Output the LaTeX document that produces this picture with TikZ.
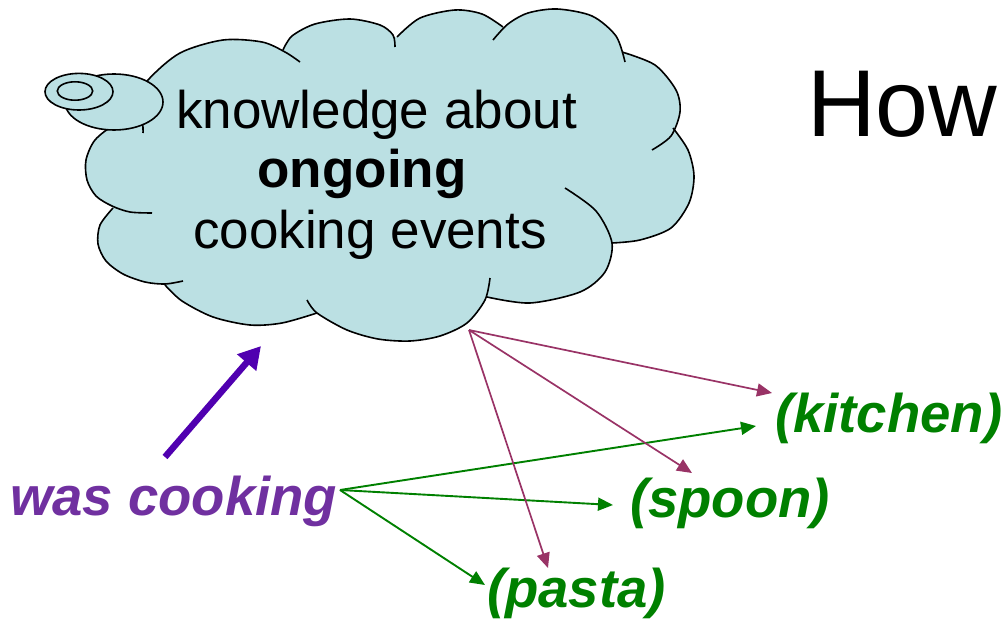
\documentclass[tikz,border=0pt]{standalone}
\usepackage{fontspec}
\setmainfont{Liberation Sans}
\usetikzlibrary{arrows.meta}

\definecolor{cloudfill}{RGB}{187,224,227}
\definecolor{linkred}{RGB}{153,51,102}
\definecolor{linkgreen}{RGB}{0,128,0}
\definecolor{verbpurple}{RGB}{112,48,160}
\definecolor{arrowviolet}{RGB}{80,0,176}

% The thought cloud is built from bumps; each list runs clockwise round the cloud.
\newcommand\cloudbumps[1]{%
  #1{(130,108) (148,80) (180,53) (223,40) (262,42) (285,52) (300,62)}%
  #1{(283,50) (292,36) (315,24) (350,19) (380,25) (393,35) (395,47)}%
  #1{(397,37) (420,18) (455,10) (482,14) (503,27)}%
  #1{(493,40) (508,24) (528,13) (557,9) (592,16) (616,36) (625,62)}%
  #1{(622,52) (655,65) (676,90) (680,112) (671,136) (652,150)}%
  #1{(673,128) (688,150) (694,176) (689,203) (671,228) (640,240) (612,243)}%
  #1{(565,188) (596,211) (612,243) (605,272) (580,292) (530,303) (487,297)}%
  #1{(490,278) (485,300) (467,323) (440,336) (410,341) (378,339) (347,330) (317,313) (307,300)}%
  #1{(317,313) (282,323) (250,325) (213,317) (182,301) (165,285)}%
  #1{(183,281) (165,284) (145,282) (123,274) (106,261) (98,244) (100,225) (113,208)}%
  #1{(152,213) (130,212) (112,206) (96,196) (87,180) (86,160) (95,140) (115,125) (140,120) (143,133)}%
}
\newcommand\cloudbumpfill[1]{plot[smooth] coordinates {#1} -- cycle }
\newcommand\cloudbumpline[1]{\draw[cloudline] plot[smooth] coordinates {#1};}

\tikzset{
  cloudline/.style={line width=1.6pt, draw=black, line join=round},
  bubble/.style={fill=cloudfill, draw=black, line width=1.6pt},
  redlink/.style={draw=linkred, line width=1.7pt, -{Triangle[length=15pt,width=13pt]}},
  greenlink/.style={draw=linkgreen, line width=1.9pt, -{Triangle[length=15pt,width=13pt]}},
  bigarrow/.style={draw=arrowviolet, line width=6.5pt, -{Triangle[length=22pt,width=24pt]}},
  talk/.style={font=\fontsize{53}{60}\selectfont, inner sep=0pt, anchor=base},
  keyword/.style={font=\fontsize{54.5}{60}\selectfont\bfseries\itshape, inner sep=0pt, anchor=base west, text=linkgreen},
}

\begin{document}
\begin{tikzpicture}[x=1pt, y=-1pt]
  \useasboundingbox (0,0) rectangle (1004,623);

  % cloud body: union of the bumps and a central polygon
  \fill[cloudfill] \cloudbumps\cloudbumpfill
    (130,108) -- (148,80) -- (283,50) -- (397,37) -- (503,27) -- (623,52)
    -- (673,128) -- (612,243) -- (487,297) -- (317,313) -- (165,285)
    -- (113,208) -- (95,150) -- (120,125) -- cycle;
  % cloud outline
  \cloudbumps\cloudbumpline

  % small thought bubbles
  \draw[bubble] (114,102) ellipse [x radius=49pt, y radius=28pt];
  \draw[bubble] (79,91.7) ellipse [x radius=34pt, y radius=18.3pt];
  \draw[bubble] (75,91) ellipse [x radius=17.7pt, y radius=9.2pt];

  % cloud text
  \node[talk] (line1) at (376.5,129) {knowledge about};
  \node[talk, font=\fontsize{53}{60}\selectfont\bfseries] (line2) at (362,187) {ongoing};
  \node[talk] (line3) at (370,248) {cooking events};

  % heading
  \node[font=\fontsize{95}{110}\selectfont, inner sep=0pt, anchor=base west] (how) at (807,137) {How};

  % words
  \node[keyword, text=verbpurple] (verb) at (10,515) {was cooking};
  \node[keyword] (kitchen) at (775,432) {(kitchen)};
  \node[keyword] (spoon) at (630,517) {(spoon)};
  \node[keyword] (pasta) at (487,607) {(pasta)};

  % connector end points
  \coordinate (cloudout) at (469,330);
  \coordinate (kitchenA) at (772,393);
  \coordinate (spoonA) at (692,473);
  \coordinate (pastaA) at (548,568);
  \coordinate (verbout) at (340,490);
  \coordinate (kitchenB) at (756,426);
  \coordinate (spoonB) at (613,505);
  \coordinate (pastaB) at (485,585);
  \coordinate (tail) at (165,457);
  \coordinate (head) at (261,346);

  % links from the verb
  \draw[greenlink] (verbout) -- (kitchenB);
  \draw[greenlink] (verbout) -- (spoonB);
  \draw[greenlink] (verbout) -- (pastaB);

  % links from the cloud
  \draw[redlink] (cloudout) -- (kitchenA);
  \draw[redlink] (cloudout) -- (spoonA);
  \draw[redlink] (cloudout) -- (pastaA);

  % the verb feeds the cloud
  \draw[bigarrow] (tail) -- (head);
\end{tikzpicture}
\end{document}
